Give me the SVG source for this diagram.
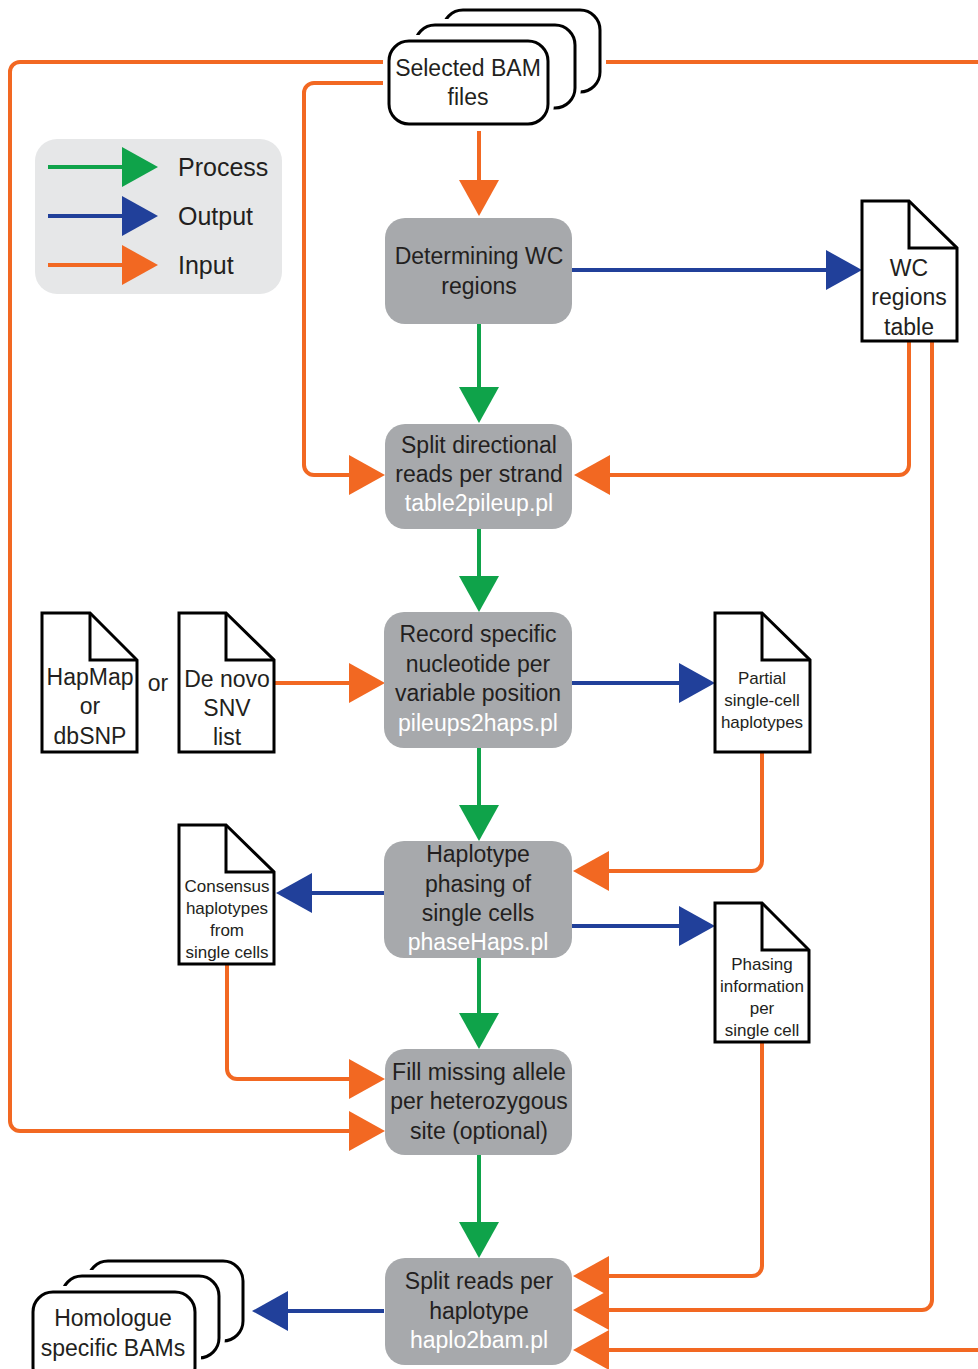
<svg xmlns="http://www.w3.org/2000/svg" width="978" height="1369" viewBox="0 0 978 1369">
<style>
text{font-family:"Liberation Sans",Arial,sans-serif;fill:#231f20;text-anchor:middle}
.t{font-size:23px}
.s{font-size:17px}
.lg{font-size:25px;text-anchor:start}
.w{fill:#ffffff}
.box{fill:#a7a9ac}
.doc{fill:#ffffff;stroke:#000;stroke-width:3;stroke-linejoin:miter}
.fold{fill:none;stroke:#000;stroke-width:3}
.stk{fill:#ffffff;stroke:#000;stroke-width:3}
.halo{fill:#ffffff;stroke:#ffffff;stroke-width:12}
.g{fill:none;stroke:#0fa34a;stroke-width:4;marker-end:url(#ag)}
.b{fill:none;stroke:#21409a;stroke-width:4;marker-end:url(#ab)}
.o{fill:none;stroke:#f26822;stroke-width:4;marker-end:url(#ao)}
.on{fill:none;stroke:#f26822;stroke-width:4}
</style>
<defs>
<marker id="ag" markerUnits="userSpaceOnUse" markerWidth="37" markerHeight="40" refX="0" refY="20" orient="auto"><path d="M0,0 L36,20 L0,40 Z" fill="#0fa34a"/></marker>
<marker id="ab" markerUnits="userSpaceOnUse" markerWidth="37" markerHeight="40" refX="0" refY="20" orient="auto"><path d="M0,0 L36,20 L0,40 Z" fill="#21409a"/></marker>
<marker id="ao" markerUnits="userSpaceOnUse" markerWidth="37" markerHeight="40" refX="0" refY="20" orient="auto"><path d="M0,0 L36,20 L0,40 Z" fill="#f26822"/></marker>
</defs>

<g id="legend">
<rect x="35" y="139" width="247" height="155" rx="22" fill="#e6e7e8"/>
<path class="g" d="M48,167 H122"/>
<path class="b" d="M48,216 H122"/>
<path class="o" d="M48,265 H122"/>
<text class="lg" x="178" y="176">Process</text>
<text class="lg" x="178" y="225">Output</text>
<text class="lg" x="178" y="274">Input</text>
</g>

<g id="connectors">
<path class="g" d="M479,324 V387"/>
<path class="g" d="M479,529 V576"/>
<path class="g" d="M479,748 V805"/>
<path class="g" d="M479,958 V1013"/>
<path class="g" d="M479,1155 V1222"/>
<path class="o" d="M479,131 V180"/>
<path class="o" d="M384,62 H20 A10,10 0 0 0 10,72 V1121 A10,10 0 0 0 20,1131 H349"/>
<path class="o" d="M383,83 H314 A10,10 0 0 0 304,93 V465 A10,10 0 0 0 314,475 H349"/>
<path class="o" d="M909,341 V465 A10,10 0 0 1 899,475 H610"/>
<path class="o" d="M275,683 H349"/>
<path class="o" d="M762,752 V861 A10,10 0 0 1 752,871 H609"/>
<path class="o" d="M227,964 V1069 A10,10 0 0 0 237,1079 H349"/>
<path class="o" d="M762,1042 V1266 A10,10 0 0 1 752,1276 H609"/>
<path class="o" d="M932,341 V1300 A10,10 0 0 1 922,1310 H609"/>
<path class="on" d="M605,62 H980"/>
<path class="o" d="M980,1350 H609"/>
<path class="b" d="M572,270 H826"/>
<path class="b" d="M572,683 H679"/>
<path class="b" d="M384,893 H312"/>
<path class="b" d="M572,926 H679"/>
<path class="b" d="M384,1311 H288"/>
</g>

<g id="selected-bam">
<rect class="halo" x="443" y="10" width="157" height="82" rx="20"/>
<rect class="stk" x="443" y="10" width="157" height="82" rx="20"/>
<rect class="halo" x="415" y="25" width="160" height="83" rx="20"/>
<rect class="stk" x="415" y="25" width="160" height="83" rx="20"/>
<rect class="halo" x="389" y="41" width="159" height="83" rx="20"/>
<rect class="stk" x="389" y="41" width="159" height="83" rx="20"/>
<text class="t" x="468" y="76">Selected BAM</text>
<text class="t" x="468" y="105">files</text>
</g>

<g id="determining">
<rect class="box" x="385" y="218" width="187" height="106" rx="20"/>
<text class="t" x="479" y="264">Determining WC</text>
<text class="t" x="479" y="294">regions</text>
</g>

<g id="wc-table">
<path class="doc" d="M862,201 H909 L957,248 V341 H862 Z"/>
<path class="fold" d="M909,201 V248 H957"/>
<text class="t" x="909" y="276">WC</text>
<text class="t" x="909" y="305">regions</text>
<text class="t" x="909" y="335">table</text>
</g>

<g id="split-directional">
<rect class="box" x="385" y="424" width="187" height="105" rx="20"/>
<text class="t" x="479" y="453">Split directional</text>
<text class="t" x="479" y="482">reads per strand</text>
<text class="t w" x="479" y="511">table2pileup.pl</text>
</g>

<g id="hapmap">
<path class="doc" d="M42,613 H90 L137,660 V752 H42 Z"/>
<path class="fold" d="M90,613 V660 H137"/>
<text class="t" x="90" y="685">HapMap</text>
<text class="t" x="90" y="714">or</text>
<text class="t" x="90" y="744">dbSNP</text>
</g>

<text class="t" x="158" y="691">or</text>

<g id="denovo">
<path class="doc" d="M179,613 H226 L274,660 V752 H179 Z"/>
<path class="fold" d="M226,613 V660 H274"/>
<text class="t" x="227" y="687">De novo</text>
<text class="t" x="227" y="716">SNV</text>
<text class="t" x="227" y="745">list</text>
</g>

<g id="record">
<rect class="box" x="384" y="612" width="188" height="136" rx="20"/>
<text class="t" x="478" y="642">Record specific</text>
<text class="t" x="478" y="672">nucleotide per</text>
<text class="t" x="478" y="701">variable position</text>
<text class="t w" x="478" y="731">pileups2haps.pl</text>
</g>

<g id="partial">
<path class="doc" d="M715,613 H762 L810,660 V752 H715 Z"/>
<path class="fold" d="M762,613 V660 H810"/>
<text class="s" x="762" y="684">Partial</text>
<text class="s" x="762" y="706">single-cell</text>
<text class="s" x="762" y="728">haplotypes</text>
</g>

<g id="haplotype-phasing">
<rect class="box" x="384" y="841" width="188" height="117" rx="20"/>
<text class="t" x="478" y="862">Haplotype</text>
<text class="t" x="478" y="892">phasing of</text>
<text class="t" x="478" y="921">single cells</text>
<text class="t w" x="478" y="950">phaseHaps.pl</text>
</g>

<g id="consensus">
<path class="doc" d="M179,825 H226 L274,872 V964 H179 Z"/>
<path class="fold" d="M226,825 V872 H274"/>
<text class="s" x="227" y="892">Consensus</text>
<text class="s" x="227" y="914">haplotypes</text>
<text class="s" x="227" y="936">from</text>
<text class="s" x="227" y="958">single cells</text>
</g>

<g id="phasing-info">
<path class="doc" d="M715,903 H762 L809,950 V1042 H715 Z"/>
<path class="fold" d="M762,903 V950 H809"/>
<text class="s" x="762" y="970">Phasing</text>
<text class="s" x="762" y="992">information</text>
<text class="s" x="762" y="1014">per</text>
<text class="s" x="762" y="1036">single cell</text>
</g>

<g id="fill-missing">
<rect class="box" x="385" y="1049" width="187" height="106" rx="20"/>
<text class="t" x="479" y="1080">Fill missing allele</text>
<text class="t" x="479" y="1109">per heterozygous</text>
<text class="t" x="479" y="1139">site (optional)</text>
</g>

<g id="split-reads">
<rect class="box" x="385" y="1258" width="187" height="107" rx="20"/>
<text class="t" x="479" y="1289">Split reads per</text>
<text class="t" x="479" y="1319">haplotype</text>
<text class="t w" x="479" y="1348">haplo2bam.pl</text>
</g>

<g id="homologue-bams">
<rect class="halo" x="88" y="1261" width="155" height="80" rx="20"/>
<rect class="stk" x="88" y="1261" width="155" height="80" rx="20"/>
<rect class="halo" x="62" y="1276" width="157" height="82" rx="20"/>
<rect class="stk" x="62" y="1276" width="157" height="82" rx="20"/>
<rect class="halo" x="33" y="1292" width="162" height="95" rx="20"/>
<rect class="stk" x="33" y="1292" width="162" height="95" rx="20"/>
<text class="t" x="113" y="1326">Homologue</text>
<text class="t" x="113" y="1356">specific BAMs</text>
</g>
</svg>
